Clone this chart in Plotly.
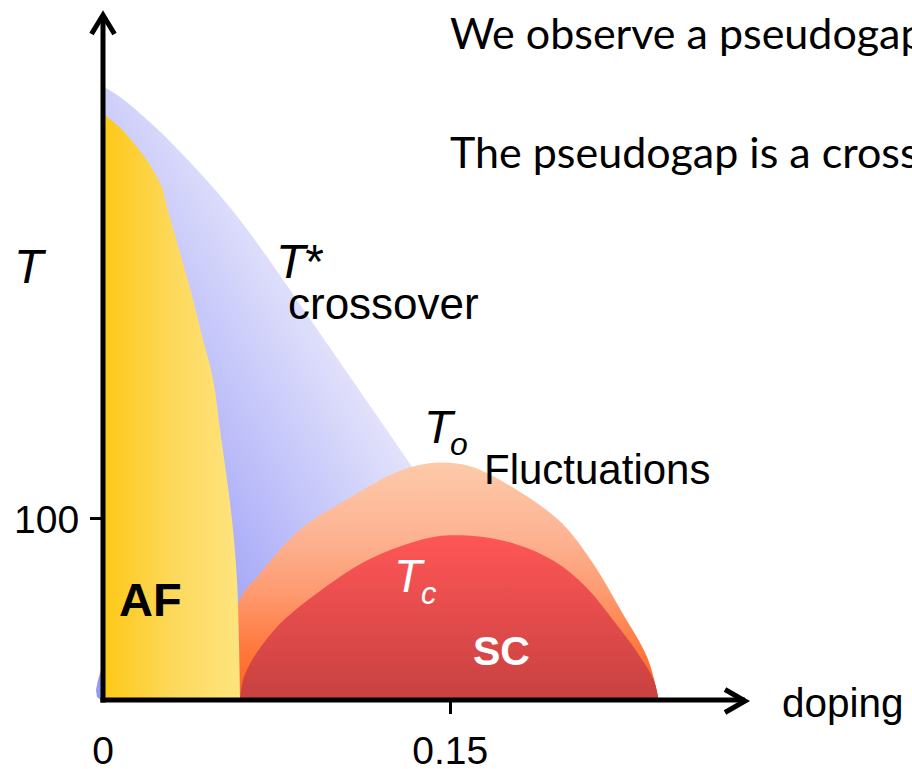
import plotly.graph_objects as go

# ---------------- data ----------------
doping_ticks = [0, 0.15]
doping_tick_text = ["0", "0.15"]
temp_ticks = [100]
temp_tick_text = ["100"]

# T* crossover line (doping, temperature in K)
tstar_doping = [0.0, 0.0074, 0.016, 0.0246, 0.0346, 0.0441, 0.0549, 0.0657, 0.0765,
                0.0895, 0.1024, 0.1154, 0.1283, 0.139]
tstar_temp = [339, 333, 324, 314, 301, 288, 272, 254, 234.5,
              210.5, 186.5, 162.5, 138.5, 118.5]

# antiferromagnetic phase boundary
af_doping = [0.0, 0.0074, 0.013, 0.019, 0.0233, 0.0255, 0.0277, 0.0333, 0.0389,
             0.0432, 0.0476, 0.0506, 0.0536, 0.0562, 0.0579, 0.0588, 0.0592]
af_temp = [324, 316, 308, 298, 289, 283, 272, 247, 221,
           199, 177, 149, 121.5, 94, 66, 29, 0]

# T_o fluctuation dome
to_doping = [0.057, 0.058, 0.059, 0.068, 0.085, 0.107, 0.128, 0.143, 0.159,
             0.180, 0.198, 0.212, 0.224, 0.235, 0.2395, 0.240]
to_temp = [0, 33, 55, 70, 94, 112, 126.5, 131, 129,
           115, 98, 75, 49, 24, 4, 0]

# T_c superconducting dome
tc_doping = [0.0592, 0.0605, 0.0635, 0.068, 0.078, 0.0925, 0.114, 0.136, 0.150,
             0.173, 0.1945, 0.209, 0.2205, 0.231, 0.238, 0.240]
tc_temp = [0, 11, 20, 29, 44, 59, 77, 88, 91,
           88, 77, 62, 44, 26, 11, 0]

# ---------------- geometry ----------------
W, H = 912, 769
ML, MR, MT, MB = 103, 161, 12, 69
PW, PH = W - ML - MR, H - MT - MB
X_MAX, Y_MAX = 0.28, 380

FONT = "Liberation Sans"
TEXT_FONT = "Lato"


def paper(px, py):
    """Pixel position on the page -> paper coordinates."""
    return (px - ML) / PW, (H - MB - py) / PH


fig = go.Figure()

# pseudogap region: diagonal shading (darker towards low doping / low T),
# trimmed to the area under the T* line by a white cover above it
KX = 1.67 * PW / X_MAX
KY = PH / Y_MAX
S_DARK, S_LIGHT = 330.0, 740.0
x_end = tstar_doping[-1] - 0.0005
n_cols = 30
shade_x = [x_end * i / n_cols for i in range(n_cols + 1)]          # brick edges
shade_y = [-5 + j * 10 for j in range(37)]                         # brick edges
shade_z = [[KX * 0.5 * (shade_x[i] + shade_x[i + 1]) + KY * (0.5 * (shade_y[j] + shade_y[j + 1]))
            for i in range(n_cols)] for j in range(len(shade_y) - 1)]
fig.add_trace(go.Heatmap(
    x=shade_x, y=shade_y, z=shade_z, zsmooth="best", zmin=S_DARK, zmax=S_LIGHT,
    colorscale=[[0, "rgb(168,170,248)"], [1, "rgb(225,225,251)"]],
    showscale=False, hoverinfo="skip"))

fig.add_trace(go.Scatter(
    x=[-0.01, 0.145], y=[400, 400], mode="lines", line=dict(width=0),
    hoverinfo="skip", showlegend=False))
fig.add_trace(go.Scatter(
    x=tstar_doping, y=tstar_temp, mode="lines", fill="tonexty", fillcolor="white",
    line=dict(width=0, shape="spline"), hoverinfo="skip", showlegend=False))

# fluctuation dome
fig.add_trace(go.Scatter(
    x=to_doping, y=to_temp, mode="lines", fill="tozeroy",
    line=dict(width=0, shape="spline"),
    fillgradient=dict(type="vertical", start=0, stop=max(to_temp),
                      colorscale=[[0, "#ff6216"], [0.25, "#ff7d45"], [0.45, "#fe9a70"],
                                  [0.7, "#fdb494"], [1, "#fdcaa9"]]),
    hoverinfo="skip", showlegend=False))

# superconducting dome
fig.add_trace(go.Scatter(
    x=tc_doping, y=tc_temp, mode="lines", fill="tozeroy",
    line=dict(width=0, shape="spline"),
    fillgradient=dict(type="vertical", start=0, stop=max(tc_temp),
                      colorscale=[[0, "#c84141"], [1, "#ff5656"]]),
    hoverinfo="skip", showlegend=False))

# antiferromagnet
fig.add_trace(go.Scatter(
    x=af_doping, y=af_temp, mode="lines", fill="tozeroy",
    line=dict(width=0, shape="spline"),
    fillgradient=dict(type="horizontal", start=0, stop=max(af_doping),
                      colorscale=[[0, "#fdc815"], [0.5, "#fdd85a"], [1, "#fee47f"]]),
    hoverinfo="skip", showlegend=False))


def path(points, close=False):
    segs = []
    for i, (px, py) in enumerate(points):
        xp, yp = paper(px, py)
        segs.append(("M" if i == 0 else "L") + f" {xp:.5f} {yp:.5f}")
    return " ".join(segs) + (" Z" if close else "")


# small sliver of the pseudogap shading peeking out left of the T axis
fig.add_shape(type="path", xref="paper", yref="paper",
              path=path([(101, 670), (98, 680), (96, 690), (97, 697), (101, 700)], close=True),
              fillcolor="rgb(150,153,242)", line=dict(width=0), layer="below")

# axes with arrow heads
ax_style = dict(color="black", width=5)
x0p, y0p = paper(100.5, 700)
x1p, _ = paper(745, 700)
fig.add_shape(type="line", xref="paper", yref="paper", x0=x0p, x1=x1p, y0=y0p, y1=y0p,
              line=ax_style, layer="above")
yb = paper(103, 702.5)[1]
yt = paper(103, 15)[1]
fig.add_shape(type="line", xref="paper", yref="paper", x0=0, x1=0, y0=yb, y1=yt,
              line=ax_style, layer="above")
fig.add_shape(type="path", xref="paper", yref="paper",
              path=path([(91.5, 34), (103, 15), (114.5, 34)]), line=ax_style, layer="above")
fig.add_shape(type="path", xref="paper", yref="paper",
              path=path([(725, 689.5), (745, 701), (725, 712.5)]), line=ax_style, layer="above")


def label(text, px, py, size, color="black", family=FONT):
    xp, yp = paper(px, py)
    fig.add_annotation(text=text, x=xp, y=yp, xref="paper", yref="paper",
                       xanchor="left", yanchor="middle", showarrow=False,
                       font=dict(family=family, size=size, color=color))


label("We observe a pseudogap", 448, 32, 43, family=TEXT_FONT)
label("The pseudogap is a crossover", 448, 151, 43, family=TEXT_FONT)

label("<i>T</i>", 12, 266, 48)
label("<i>T</i>*", 274, 261, 48)
label("crossover", 286, 303, 44)
label("<i>T</i>", 422, 426, 47)
label("<i>o</i>", 448, 444, 32)
label("Fluctuations", 482, 469, 42)
label("<i>T</i>", 392, 576, 46, color="white")
label("<i>c</i>", 419, 593, 31, color="white")
label("<b>AF</b>", 117, 599, 47)
label("<b>SC</b>", 471, 651, 41, color="white")
label("doping", 780, 703, 40.5)

tick_font = dict(family=FONT, size=39, color="black")
fig.update_layout(
    width=W, height=H,
    margin=dict(l=ML, r=MR, t=MT, b=MB, autoexpand=False),
    paper_bgcolor="white", plot_bgcolor="white",
    showlegend=False,
    xaxis=dict(range=[0, X_MAX], showgrid=False, zeroline=False, showline=False,
               tickmode="array", tickvals=doping_ticks, ticktext=doping_tick_text,
               ticks="", tickfont=tick_font, ticklabelstandoff=24, automargin=False,
               minor=dict(tickmode="array", tickvals=[doping_ticks[1]], ticks="outside",
                          ticklen=13, tickwidth=2.5, tickcolor="black", showgrid=False),
               fixedrange=True),
    yaxis=dict(range=[0, Y_MAX], showgrid=False, zeroline=False, showline=False,
               tickmode="array", tickvals=temp_ticks, ticktext=temp_tick_text,
               ticks="outside", ticklen=12, tickwidth=2.5, tickcolor="black",
               tickfont=tick_font, ticklabelstandoff=3, automargin=False,
               fixedrange=True),
)

fig.write_html("out.html")
